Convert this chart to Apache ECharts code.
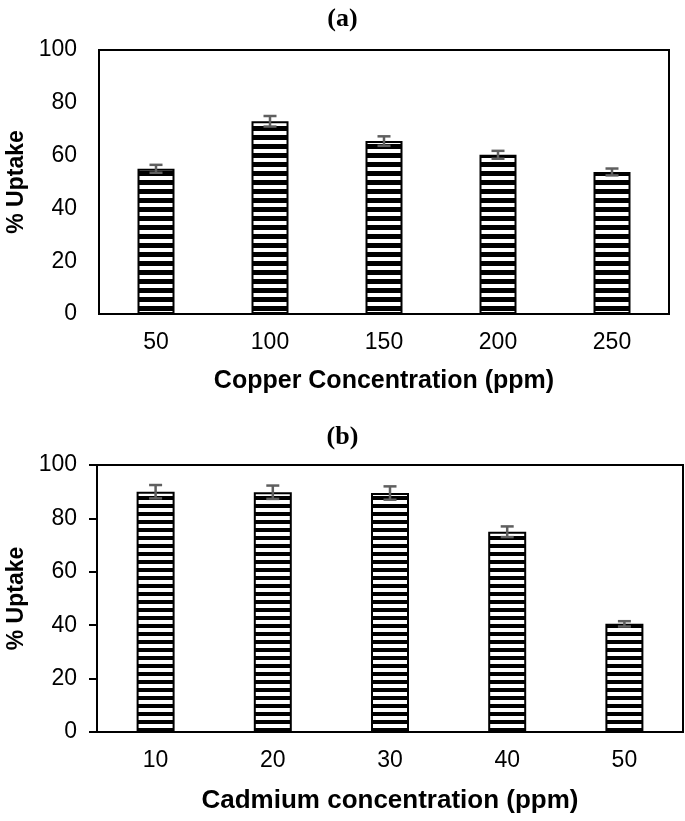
<!DOCTYPE html>
<html>
<head>
<meta charset="utf-8">
<script src="https://cdn.jsdelivr.net/npm/echarts@6/dist/echarts.min.js"></script>
<style>html,body{margin:0;padding:0;background:#fff}#c{width:685px;height:821px}</style>
</head>
<body>
<div id="c"></div>
<script>
// Panel (a)
const copperCats = ['50', '100', '150', '200', '250'];
const copperUptake = [55, 73, 65.5, 60.3, 53.8];
const copperErr = [1.5, 2, 1.8, 1.5, 1.3];
// Panel (b)
const cadmiumCats = ['10', '20', '30', '40', '50'];
const cadmiumUptake = [90, 89.8, 89.5, 75, 40.5];
const cadmiumErr = [2.5, 2.5, 2.5, 2, 1];
const yTicks = [0, 20, 40, 60, 80, 100];

function stripes(period, black) {
  const c = document.createElement('canvas');
  c.width = 8; c.height = period;
  const g = c.getContext('2d');
  g.fillStyle = '#fff'; g.fillRect(0, 0, 8, period);
  g.fillStyle = '#000'; g.fillRect(0, 0, 8, black);
  return c;
}

const FONT = 'Liberation Sans, Arial, sans-serif';

function errData(vals, errs) {
  return vals.map((v, i) => [i, v - errs[i], v + errs[i]]);
}
function errRender(params, api) {
  const x = api.value(0);
  const lo = api.coord([x, api.value(1)]);
  const hi = api.coord([x, api.value(2)]);
  const hw = 6.5;
  const st = { stroke: '#5f5f5f', lineWidth: 2.5 };
  return {
    type: 'group',
    children: [
      { type: 'line', shape: { x1: hi[0], y1: hi[1], x2: lo[0], y2: lo[1] }, style: st },
      { type: 'line', shape: { x1: hi[0] - hw, y1: hi[1], x2: hi[0] + hw, y2: hi[1] }, style: st },
      { type: 'line', shape: { x1: lo[0] - hw, y1: lo[1], x2: lo[0] + hw, y2: lo[1] }, style: st }
    ]
  };
}

function yAxis(gi, ticks, margin) {
  return {
    gridIndex: gi, type: 'value', min: 0, max: 100, interval: 20,
    name: '% Uptake', nameLocation: 'middle', nameRotate: 90, nameGap: 68,
    nameTextStyle: { fontFamily: FONT, fontWeight: 'bold', fontSize: 23, color: '#000' },
    axisLine: { show: true, lineStyle: { color: '#000', width: 2 } },
    axisTick: { show: ticks, length: 8, lineStyle: { color: '#000', width: 2 } },
    splitLine: { show: false },
    axisLabel: { fontFamily: FONT, fontSize: 23, color: '#000', margin: margin,
      formatter: v => yTicks.includes(v) ? String(v) : '' }
  };
}
function xAxis(gi, cats, name, nameSize, gap) {
  return {
    gridIndex: gi, type: 'category', data: cats,
    name: name, nameLocation: 'middle', nameGap: gap,
    nameTextStyle: { fontFamily: FONT, fontWeight: 'bold', fontSize: nameSize, color: '#000' },
    axisLine: { show: true, lineStyle: { color: '#000', width: 2 } },
    axisTick: { show: false },
    axisLabel: { fontFamily: FONT, fontSize: 23, color: '#000', margin: 17 }
  };
}

const chart = echarts.init(document.getElementById('c'), null, { renderer: 'canvas' });
chart.setOption({
  animation: false,
  backgroundColor: '#fff',
  title: [
    { text: '(a)', left: 'center', top: 1, textStyle: { fontFamily: 'Liberation Serif', fontWeight: 'bold', fontSize: 26, color: '#000' } },
    { text: '(b)', left: 'center', top: 419, textStyle: { fontFamily: 'Liberation Serif', fontWeight: 'bold', fontSize: 26, color: '#000' } }
  ],
  grid: [
    { left: 99, top: 50, width: 570, height: 264, outerBoundsMode: 'none', containLabel: false, show: true, borderColor: '#000', borderWidth: 2, backgroundColor: 'transparent' },
    { left: 97, top: 465, width: 586, height: 267, outerBoundsMode: 'none', containLabel: false, show: true, borderColor: '#000', borderWidth: 2, backgroundColor: 'transparent' }
  ],
  xAxis: [xAxis(0, copperCats, 'Copper Concentration (ppm)', 25, 55), xAxis(1, cadmiumCats, 'Cadmium concentration (ppm)', 26, 56)],
  yAxis: [yAxis(0, false, 22), yAxis(1, true, 20)],
  series: [
    { type: 'bar', xAxisIndex: 0, yAxisIndex: 0, data: copperUptake, barWidth: 37,
      itemStyle: { color: { image: stripes(9, 5), repeat: 'repeat' }, borderColor: '#000', borderWidth: 2 } },
    { type: 'custom', xAxisIndex: 0, yAxisIndex: 0, data: errData(copperUptake, copperErr), renderItem: errRender, z: 5 },
    { type: 'bar', xAxisIndex: 1, yAxisIndex: 1, data: cadmiumUptake, barWidth: 38,
      itemStyle: { color: { image: stripes(8, 4), repeat: 'repeat' }, borderColor: '#000', borderWidth: 2 } },
    { type: 'custom', xAxisIndex: 1, yAxisIndex: 1, data: errData(cadmiumUptake, cadmiumErr), renderItem: errRender, z: 5 }
  ]
});
</script>
</body>
</html>
